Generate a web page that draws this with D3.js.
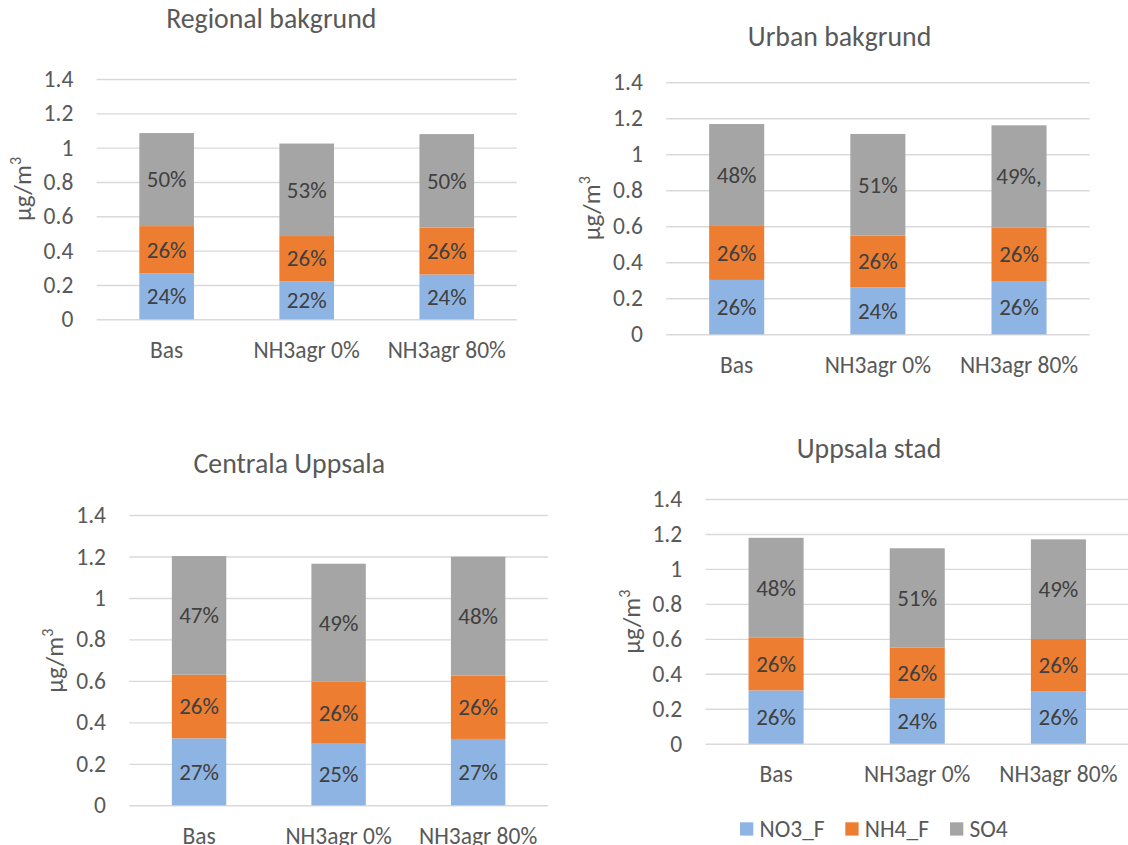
<!DOCTYPE html>
<html>
<head>
<meta charset="utf-8">
<script src="https://cdn.jsdelivr.net/npm/d3@7"></script>
<style>
  html, body { margin: 0; padding: 0; background: #fff; }
  svg { display: block; font-family: Calibri, Carlito, "Open Sans", sans-serif; }
</style>
</head>
<body>
<svg id="chart" width="1128" height="845"></svg>
<script>
// ---- data ----
const categories = ["Bas", "NH3agr 0%", "NH3agr 80%"];
const seriesNames = ["NO3_F", "NH4_F", "SO4"];
const yTicks = [0, 0.2, 0.4, 0.6, 0.8, 1, 1.2, 1.4];
const panelTitles = ["Regional bakgrund", "Urban bakgrund", "Centrala Uppsala", "Uppsala stad"];

const regionalNO3 = [0.267, 0.222, 0.261];
const regionalNH4 = [0.276, 0.263, 0.274];
const regionalSO4 = [0.542, 0.539, 0.544];
const regionalLabelsNO3 = ["24%", "22%", "24%"];
const regionalLabelsNH4 = ["26%", "26%", "26%"];
const regionalLabelsSO4 = ["50%", "53%", "50%"];

const urbanNO3 = [0.302, 0.261, 0.296];
const urbanNH4 = [0.300, 0.287, 0.296];
const urbanSO4 = [0.566, 0.565, 0.569];
const urbanLabelsNO3 = ["26%", "24%", "26%"];
const urbanLabelsNH4 = ["26%", "26%", "26%"];
const urbanLabelsSO4 = ["48%", "51%", "49%,"];

const centralaNO3 = [0.323, 0.297, 0.320];
const centralaNH4 = [0.307, 0.299, 0.305];
const centralaSO4 = [0.572, 0.569, 0.574];
const centralaLabelsNO3 = ["27%", "25%", "27%"];
const centralaLabelsNH4 = ["26%", "26%", "26%"];
const centralaLabelsSO4 = ["47%", "49%", "48%"];

const stadNO3 = [0.305, 0.260, 0.301];
const stadNH4 = [0.301, 0.289, 0.298];
const stadSO4 = [0.572, 0.569, 0.570];
const stadLabelsNO3 = ["26%", "24%", "26%"];
const stadLabelsNH4 = ["26%", "26%", "26%"];
const stadLabelsSO4 = ["48%", "51%", "49%"];

// ---- styles / layout ----
const colors = { "NO3_F": "#8EB4E3", "NH4_F": "#ED7D31", "SO4": "#A5A5A5" };
const layouts = [
  { x0: 96.6,  x1: 516.8, yZero: 319.3, yTop: 79.0,  titleX: 271.3, titleY: 28.0,  ylabCY: 189.0 },
  { x0: 666.1, x1: 1089.6, yZero: 334.3, yTop: 82.3, titleX: 839.6, titleY: 45.7,  ylabCY: 208.3 },
  { x0: 129.3, x1: 547.9, yZero: 805.3, yTop: 515.0, titleX: 289.3, titleY: 473.3, ylabCY: 660.8 },
  { x0: 705.5, x1: 1129.0, yZero: 743.7, yTop: 499.0, titleX: 869.0, titleY: 457.7, ylabCY: 621.7 }
];

const panelData = [
  { values: [regionalNO3, regionalNH4, regionalSO4], labels: [regionalLabelsNO3, regionalLabelsNH4, regionalLabelsSO4] },
  { values: [urbanNO3, urbanNH4, urbanSO4], labels: [urbanLabelsNO3, urbanLabelsNH4, urbanLabelsSO4] },
  { values: [centralaNO3, centralaNH4, centralaSO4], labels: [centralaLabelsNO3, centralaLabelsNH4, centralaLabelsSO4] },
  { values: [stadNO3, stadNH4, stadSO4], labels: [stadLabelsNO3, stadLabelsNH4, stadLabelsSO4] }
];

const svg = d3.select("#chart");
const textColor = "#595959";
const labelColor = "#404040";
const fs = 23.5;

panelData.forEach((pd, pi) => {
  const L = layouts[pi];
  const W = L.x1 - L.x0;
  const x = d3.scaleBand().domain(categories).range([L.x0, L.x1]).paddingInner(0.61).paddingOuter(0.305);
  const y = d3.scaleLinear().domain([0, 1.4]).range([L.yZero, L.yTop]);

  const g = svg.append("g");

  // gridlines + tick labels
  const axis = d3.axisLeft(y).tickValues(yTicks).tickFormat(d => d3.format("~g")(d))
    .tickSizeInner(-W).tickSizeOuter(0).tickPadding(23.3);
  const ag = g.append("g").attr("transform", `translate(${L.x0},0)`).call(axis);
  ag.select(".domain").remove();
  ag.selectAll(".tick line").attr("stroke", "#D9D9D9").attr("stroke-width", 1.4);
  ag.selectAll(".tick text").attr("fill", textColor).attr("font-size", fs)
    .attr("font-family", 'Calibri, Carlito, "Open Sans", sans-serif');

  // stacked data
  const rows = categories.map((c, i) => {
    const r = { cat: c };
    seriesNames.forEach((s, si) => r[s] = pd.values[si][i]);
    return r;
  });
  const stack = d3.stack().keys(seriesNames)(rows);

  stack.forEach((layer, si) => {
    const lg = g.append("g");
    lg.selectAll("rect").data(layer).join("rect")
      .attr("x", d => x(d.data.cat))
      .attr("width", x.bandwidth())
      .attr("y", d => y(d[1]))
      .attr("height", d => y(d[0]) - y(d[1]))
      .attr("fill", colors[layer.key]);
    lg.selectAll("text").data(layer).join("text")
      .attr("x", d => x(d.data.cat) + x.bandwidth() / 2)
      .attr("y", d => (y(d[0]) + y(d[1])) / 2)
      .attr("dy", "0.34em")
      .attr("text-anchor", "middle")
      .attr("font-size", 23)
      .attr("fill", labelColor)
      .text((d, i) => pd.labels[si][i]);
  });

  // category labels
  g.append("g").selectAll("text").data(categories).join("text")
    .attr("x", d => x(d) + x.bandwidth() / 2)
    .attr("y", L.yZero + 38.4)
    .attr("text-anchor", "middle")
    .attr("font-size", fs)
    .attr("fill", textColor)
    .text(d => d);

  // title
  g.append("text")
    .attr("x", L.titleX).attr("y", L.titleY)
    .attr("text-anchor", "middle")
    .attr("font-size", 27.8)
    .attr("fill", textColor)
    .text(panelTitles[pi]);

  // y-axis title
  const yl = g.append("text")
    .attr("transform", `translate(${L.x0 - 66},${L.ylabCY}) rotate(-90)`)
    .attr("text-anchor", "middle")
    .attr("font-size", 25)
    .attr("fill", textColor);
  yl.append("tspan").text("µg/m");
  yl.append("tspan").attr("font-size", 16).attr("dy", -10).text("3");
});

// legend
const legendX = [740, 845.3, 950];
const lg = svg.append("g");
seriesNames.forEach((s, i) => {
  lg.append("rect").attr("x", legendX[i]).attr("y", 822.3).attr("width", 13.3).attr("height", 13.3).attr("fill", colors[s]);
  lg.append("text").attr("x", legendX[i] + 19.5).attr("y", 829).attr("dy", "0.34em")
    .attr("font-size", fs).attr("fill", textColor).text(s);
});
</script>
</body>
</html>
